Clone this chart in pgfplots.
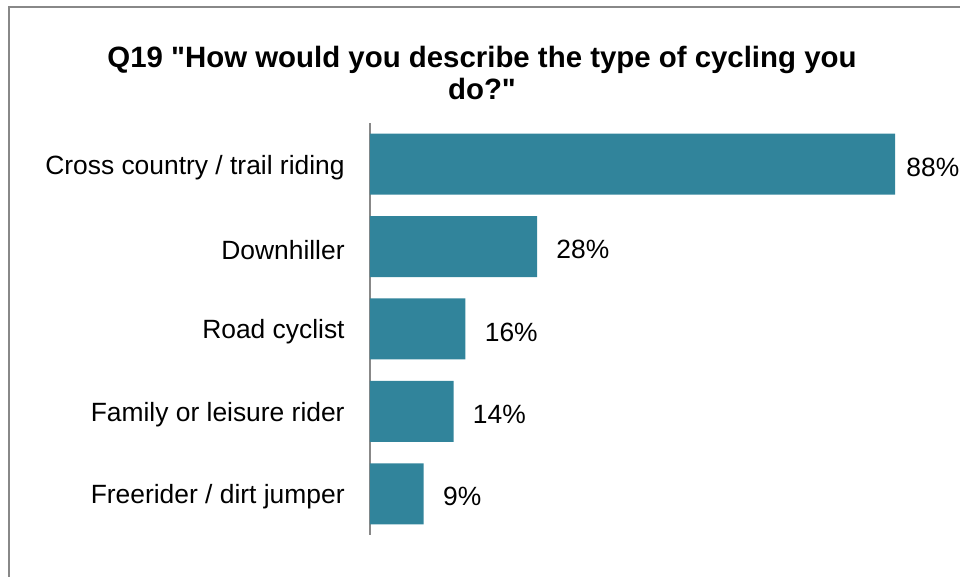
\documentclass[border=0pt]{standalone}
\usepackage{pgfplots}
\pgfplotsset{compat=1.18}
\usepackage{fontspec}
\setmainfont{Liberation Sans}
\definecolor{barc}{RGB}{49,132,155}
\definecolor{framec}{RGB}{136,136,136}
\begin{document}
\begin{tikzpicture}
\path[use as bounding box] (0pt,0pt) rectangle (480pt,288.5pt);
\draw[framec, line width=1pt] (4.5pt,0pt) -- (4.5pt,285pt) -- (480pt,285pt);
\node[font=\bfseries\fontsize{14.7}{16}\selectfont, align=center] at (241pt,252pt) {Q19 \textquotedbl How would you describe the type of cycling you\\do?\textquotedbl};
\begin{axis}[
  at={(185pt,21pt)}, anchor=south west,
  scale only axis,
  width=298.3pt, height=206pt,
  xmin=0, xmax=100,
  ymin=-0.5, ymax=4.5,
  xbar, bar width=30.5pt,
  axis x line=none,
  axis y line*=left,
  axis line style={framec, line width=0.8pt, -},
  ytick={0,1,2,3,4},
  yticklabels={Freerider / dirt jumper, Family or leisure rider, Road cyclist, Downhiller, Cross country / trail riding},
  major tick length=0pt,
  yticklabel style={font=\fontsize{13.2}{15}\selectfont, anchor=east, inner sep=0pt, xshift=-12.5pt, yshift=-1.5pt},
  clip=false,
  point meta=x,
  visualization depends on={ifthenelse(x>50,5.5,9.5) \as \lblshift},
  nodes near coords={\pgfmathprintnumber{\pgfplotspointmeta}\%},
  every node near coord/.append style={font=\fontsize{13.2}{15}\selectfont, anchor=west, inner sep=0pt, xshift=\lblshift pt, yshift=-1.5pt},
  /pgf/number format/assume math mode=true,
]
\addplot[fill=barc, draw=none] coordinates {(9,0) (14,1) (16,2) (28,3) (88,4)};
\end{axis}
\end{tikzpicture}
\end{document}
